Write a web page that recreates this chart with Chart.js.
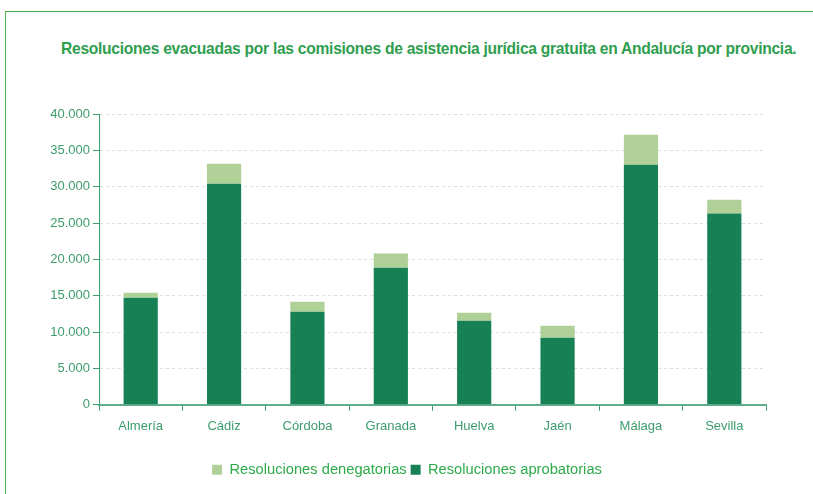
<!DOCTYPE html>
<html lang="es">
<head>
    <meta charset="UTF-8">
    <title>Resoluciones por provincia</title>
    <script src="https://cdn.jsdelivr.net/npm/chart.js"></script>
    <style>
        html, body { margin: 0; padding: 0; background: #fff; overflow: hidden; }
        #frame {
            position: absolute; left: 5px; top: 11px; width: 808px; height: 483px;
            border-left: 1px solid #4caf50; border-top: 1px solid #4caf50;
        }
        #title {
            position: absolute; left: 55px; top: 27px;
            font-family: "Liberation Sans", Arial, sans-serif;
            font-weight: bold; font-size: 17px; color: #2f9e4f; letter-spacing: -0.3px;
            white-space: nowrap; transform-origin: 0 50%;
        }
        #wrap { position: absolute; left: 1px; top: 1px; width: 807px; height: 482px; }
    </style>
</head>
<body>
    <div id="frame">
        <div id="title">Resoluciones evacuadas por las comisiones de asistencia jurídica gratuita en Andalucía por provincia.</div>
        <div id="wrap"><canvas id="myChart"></canvas></div>
    </div>

    <script>
        const provincias = ['Almería', 'Cádiz', 'Córdoba', 'Granada', 'Huelva', 'Jaén', 'Málaga', 'Sevilla'];
        const aprobatorias = [14700, 30400, 12800, 18850, 11550, 9200, 33000, 26300];
        const denegatorias = [700, 2750, 1350, 1950, 1100, 1650, 4150, 1900];
        const yTicks = [0, 5000, 10000, 15000, 20000, 25000, 30000, 35000, 40000];

        // squeeze the title into the width it has in the original (condensed face)
        const title = document.getElementById('title');
        title.style.transform = 'scaleX(' + (735 / title.scrollWidth) + ')';

        const green = '#3d9c6c';
        const ctx = document.getElementById('myChart').getContext('2d');

        Chart.defaults.font.family = '"Liberation Sans", Arial, sans-serif';
        Chart.defaults.animation = false;

        const myChart = new Chart(ctx, {
            type: 'bar',
            data: {
                labels: provincias,
                datasets: [{
                    label: 'Resoluciones aprobatorias',
                    data: aprobatorias,
                    backgroundColor: '#188055'
                }, {
                    label: 'Resoluciones denegatorias',
                    data: denegatorias,
                    backgroundColor: '#afd096'
                }]
            },
            options: {
                responsive: true,
                maintainAspectRatio: false,
                barPercentage: 0.41,
                categoryPercentage: 1,
                layout: { padding: { top: 101, left: 41, right: 48, bottom: 8 } },
                plugins: {
                    legend: {
                        position: 'bottom',
                        reverse: true,
                        labels: {
                            color: '#2eaa4a',
                            font: { size: 14.7 },
                            boxWidth: 10,
                            boxHeight: 10,
                            padding: 4
                        }
                    },
                    tooltip: { enabled: false }
                },
                scales: {
                    x: {
                        stacked: true,
                        afterFit: function (scale) { scale.height += 16; },
                        grid: {
                            offset: true,
                            drawOnChartArea: false,
                            drawTicks: true,
                            tickLength: 6,
                            tickColor: green
                        },
                        border: { color: '#5fb08a', width: 2 },
                        ticks: { color: green, font: { size: 13 }, padding: 8 }
                    },
                    y: {
                        stacked: true,
                        min: 0,
                        max: 40000,
                        afterFit: function (scale) { scale.width = 51; },
                        afterBuildTicks: function (scale) {
                            scale.ticks = yTicks.map(v => ({ value: v }));
                        },
                        grid: {
                            color: function (c) { return c.tick && c.tick.value === 0 ? 'rgba(0,0,0,0)' : '#dddddd'; },
                            tickColor: green,
                            tickLength: 6,
                            tickBorderDash: []
                        },
                        border: { color: green, width: 1, dash: [3, 3] },
                        ticks: {
                            color: green,
                            font: { size: 13 },
                            padding: 3,
                            callback: function (v) { return v.toLocaleString('de-DE'); }
                        }
                    }
                }
            }
        });
    </script>
</body>
</html>
